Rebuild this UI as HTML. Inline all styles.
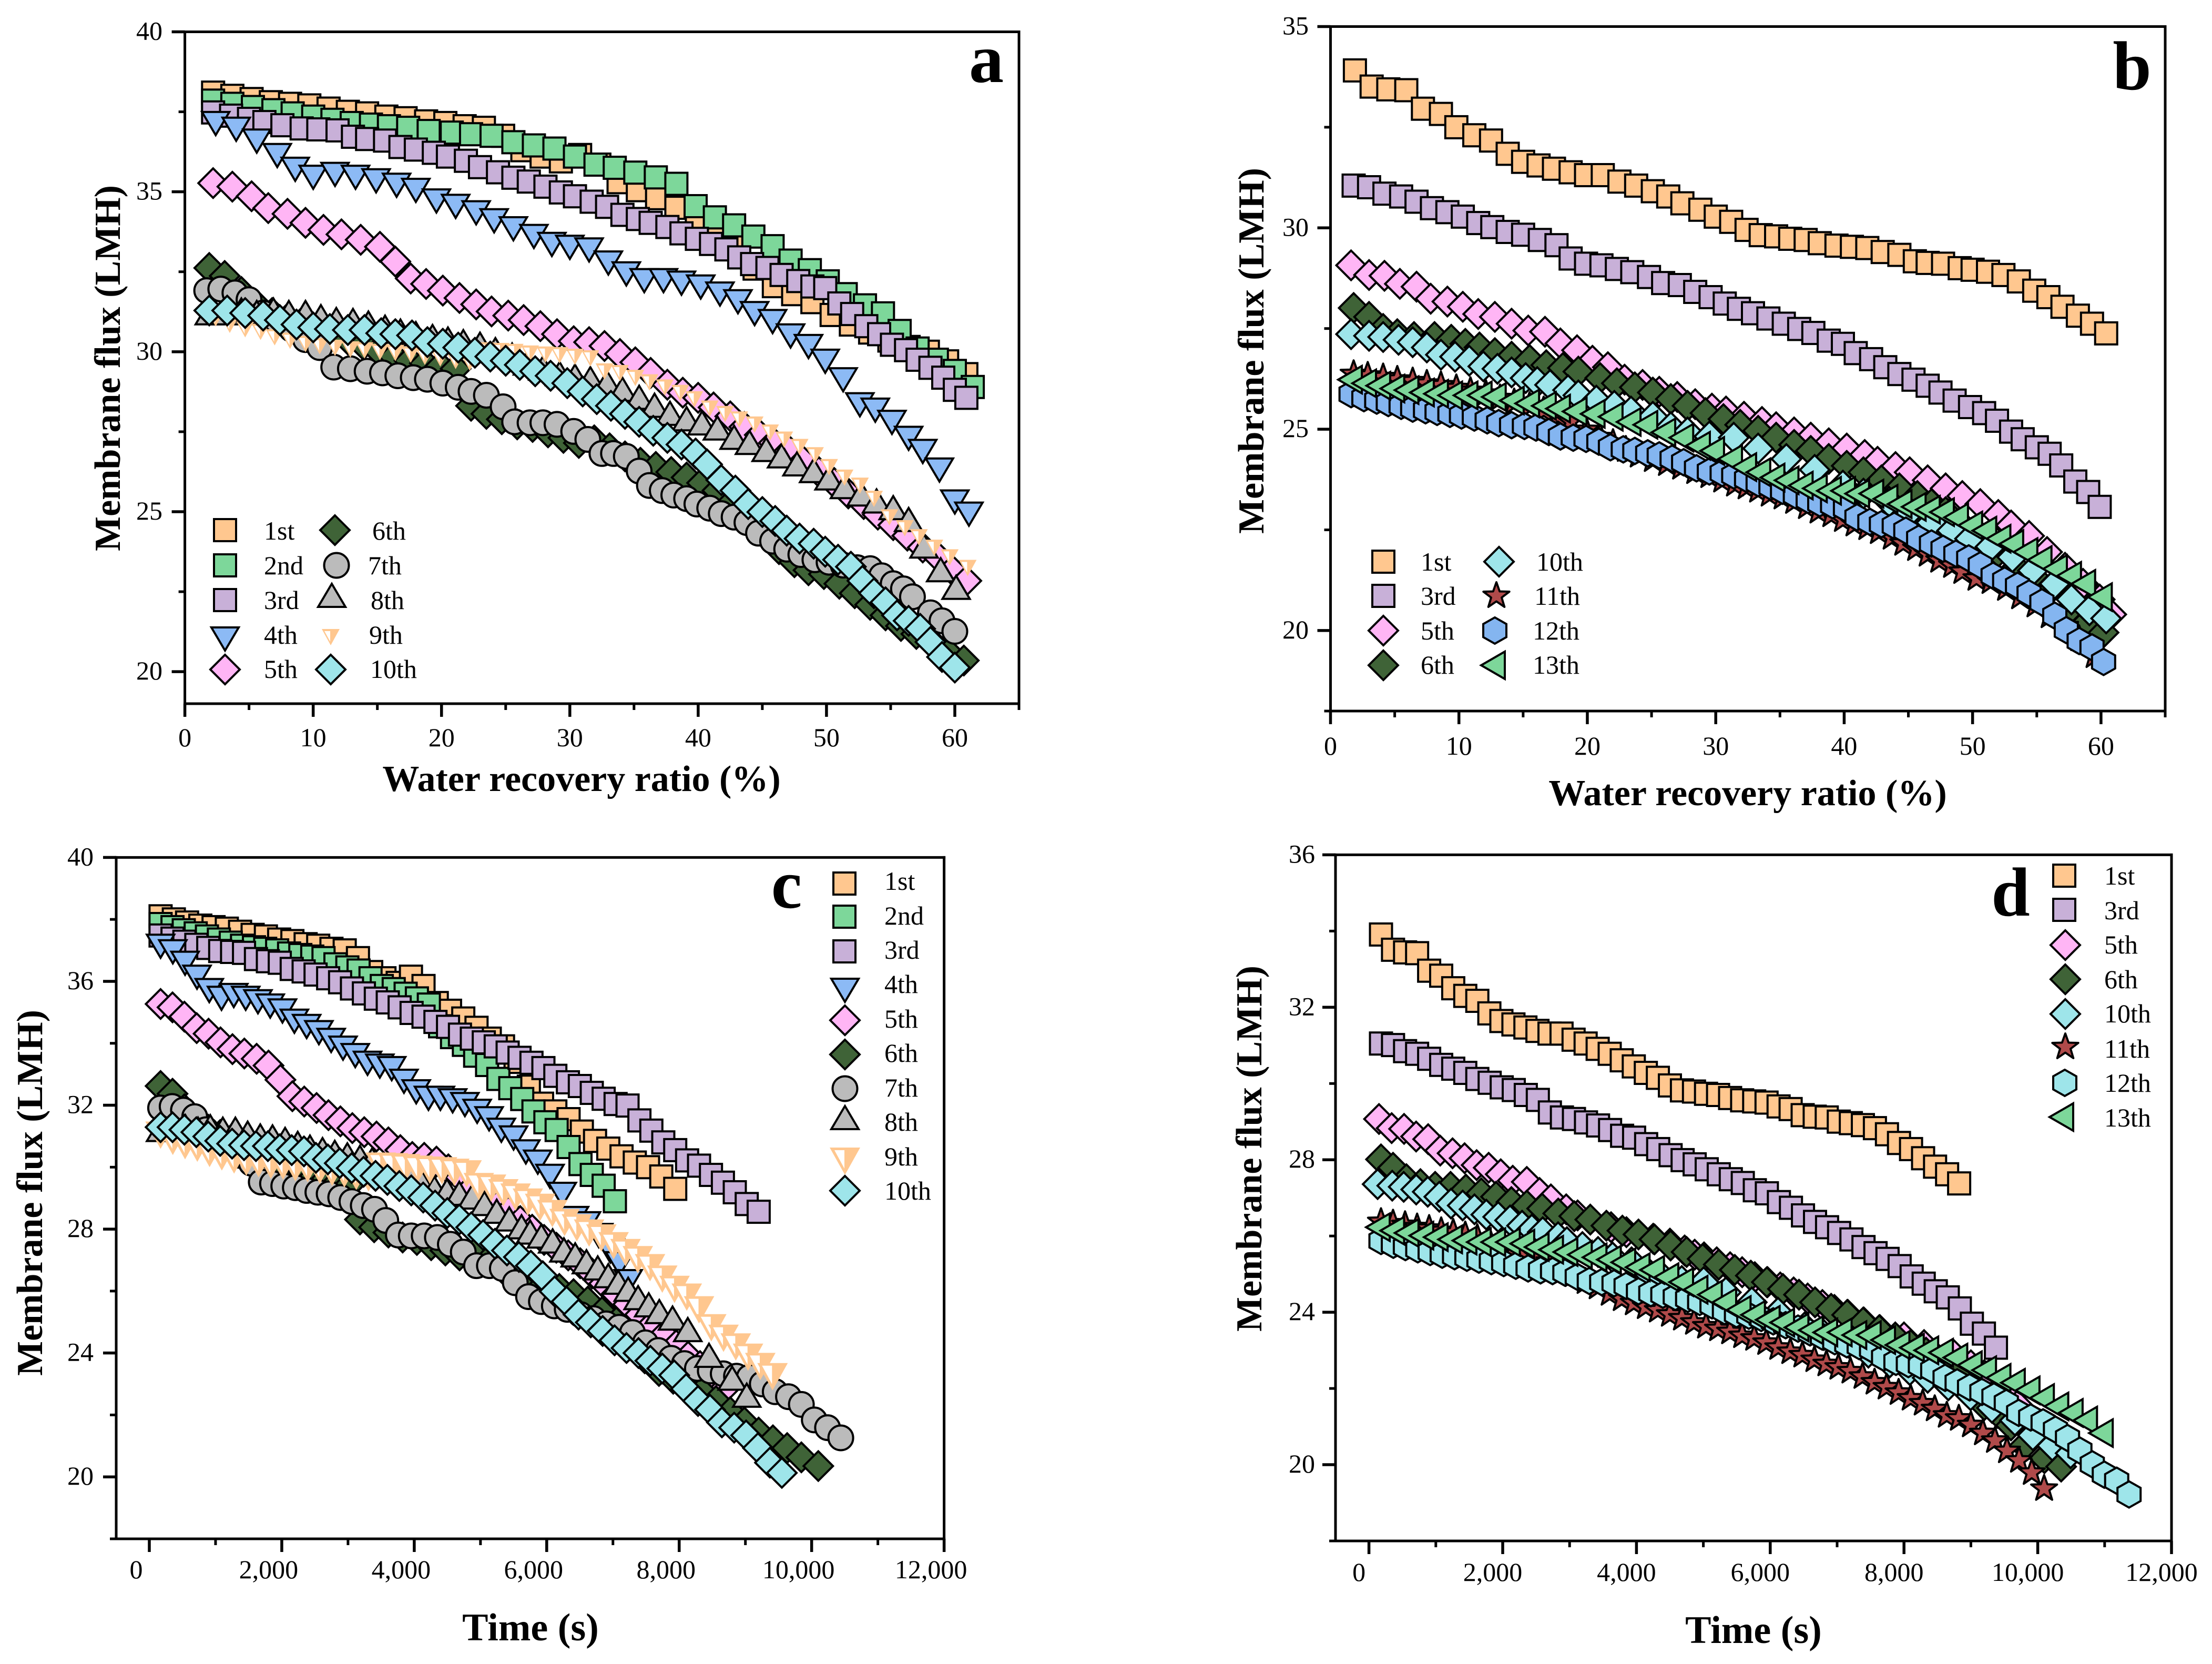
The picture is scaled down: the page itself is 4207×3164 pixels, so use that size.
<!DOCTYPE html>
<html lang="en">
<head>
<meta charset="utf-8">
<title>Membrane flux charts</title>
<style>
html,body{margin:0;padding:0;background:#fff;}
svg{display:block;}
text{font-family:"Liberation Serif",serif;fill:#000;}
.tick{font-size:50px;}
.leg{font-size:50px;}
.title{font-size:70px;font-weight:bold;}
.letter{font-size:132px;font-weight:bold;text-anchor:middle;}
</style>
</head>
<body>
<svg id="figure" xmlns="http://www.w3.org/2000/svg" width="4207" height="3164" viewBox="0 0 4207 3164">
<defs>
<rect id="m-square" x="-21" y="-21" width="42" height="42" stroke="#000" stroke-width="4"/>
<path id="m-down" d="M-26,-21H26L0,23Z" stroke="#000" stroke-width="4"/>
<path id="m-up" d="M0,-23L26,21H-26Z" stroke="#000" stroke-width="4"/>
<path id="m-left" d="M-22,0L23,-26V26Z" stroke="#000" stroke-width="4"/>
<path id="m-diamond" d="M0,-28L28,0L0,28L-28,0Z" stroke="#000" stroke-width="4"/>
<circle id="m-circle" r="23.5" stroke="#000" stroke-width="4"/>
<path id="m-star" d="M0,-26L6.2,-8.5L24.7,-8L10,3.2L15.3,21L0,10.5L-15.3,21L-10,3.2L-24.7,-8L-6.2,-8.5Z" stroke="#000" stroke-width="4" stroke-linejoin="round"/>
<path id="m-hex" d="M0,-25L22,-12.5V12.5L0,25L-22,12.5V-12.5Z" stroke="#000" stroke-width="4"/>
<g id="m-half"><path d="M-29,-25H29L0,27Z"/><path d="M-20,-20H-1V15Z" fill="#fff"/></g>
<g id="m-half-small"><path d="M-17,-15H17L0,16Z"/><path d="M-12,-11H-1V9Z" fill="#fff"/></g>
</defs>
<rect width="4207" height="3164" fill="#fff"/>

<g id="panel-a">
  <g id="plot-a"></g>
  <text class="letter" x="1876" y="156">a</text>
  <text class="title" text-anchor="middle" x="1106" y="1504">Water recovery ratio (%)</text>
  <text class="title" text-anchor="middle" transform="translate(228,700) rotate(-90)">Membrane flux (LMH)</text>
  <g>
    <use href="#m-square" x="428" y="1008" fill="#FFC78F"/><text class="leg" x="502" y="1026">1st</text>
    <use href="#m-square" x="428" y="1075" fill="#7DD79A"/><text class="leg" x="502" y="1092">2nd</text>
    <use href="#m-square" x="428" y="1141" fill="#C8B0D8"/><text class="leg" x="502" y="1158">3rd</text>
    <use href="#m-down" x="428" y="1214" fill="#8CBAF5"/><text class="leg" x="502" y="1224">4th</text>
    <use href="#m-diamond" x="428" y="1273" fill="#FFB5F5"/><text class="leg" x="502" y="1289">5th</text>
    <use href="#m-diamond" x="637" y="1008" fill="#3F6337"/><text class="leg" x="708" y="1026">6th</text>
    <use href="#m-circle" x="640" y="1075" fill="#BBBBBB"/><text class="leg" x="700" y="1092">7th</text>
    <use href="#m-up" x="631" y="1133" fill="#BBBBBB"/><text class="leg" x="705" y="1158">8th</text>
    <use href="#m-half-small" x="629" y="1211" fill="#FFC78F"/><text class="leg" x="702" y="1224">9th</text>
    <use href="#m-diamond" x="629" y="1273" fill="#9EE5EA"/><text class="leg" x="704" y="1289">10th</text>
  </g>
</g>

<g id="panel-b">
  <g id="plot-b"></g>
  <text class="letter" x="4055" y="170">b</text>
  <text class="title" text-anchor="middle" x="3324" y="1531">Water recovery ratio (%)</text>
  <text class="title" text-anchor="middle" transform="translate(2403,667) rotate(-90)">Membrane flux (LMH)</text>
  <g>
    <use href="#m-square" x="2631" y="1068" fill="#FFC78F"/><text class="leg" x="2702" y="1085">1st</text>
    <use href="#m-square" x="2631" y="1133" fill="#C8B0D8"/><text class="leg" x="2702" y="1150">3rd</text>
    <use href="#m-diamond" x="2631" y="1199" fill="#FFB5F5"/><text class="leg" x="2702" y="1216">5th</text>
    <use href="#m-diamond" x="2631" y="1265" fill="#3F6337"/><text class="leg" x="2702" y="1281">6th</text>
    <use href="#m-diamond" x="2851" y="1068" fill="#9EE5EA"/><text class="leg" x="2922" y="1085">10th</text>
    <use href="#m-star" x="2846" y="1133" fill="#B04A4A"/><text class="leg" x="2918" y="1150">11th</text>
    <use href="#m-hex" x="2843" y="1199" fill="#84B5F0"/><text class="leg" x="2915" y="1216">12th</text>
    <use href="#m-left" x="2839" y="1265" fill="#7DD79A"/><text class="leg" x="2915" y="1281">13th</text>
  </g>
</g>

<g id="panel-c">
  <g id="plot-c"></g>
  <text class="letter" x="1496" y="1726">c</text>
  <text class="title" text-anchor="middle" style="font-size:74px" x="1009" y="3119">Time (s)</text>
  <text class="title" text-anchor="middle" transform="translate(80,2268) rotate(-90)">Membrane flux (LMH)</text>
  <g>
    <use href="#m-square" x="1606" y="1680" fill="#FFC78F"/><text class="leg" x="1682" y="1692">1st</text>
    <use href="#m-square" x="1606" y="1743" fill="#7DD79A"/><text class="leg" x="1682" y="1758">2nd</text>
    <use href="#m-square" x="1606" y="1809" fill="#C8B0D8"/><text class="leg" x="1682" y="1823">3rd</text>
    <use href="#m-down" x="1607" y="1882" fill="#8CBAF5"/><text class="leg" x="1682" y="1888">4th</text>
    <use href="#m-diamond" x="1607" y="1940" fill="#FFB5F5"/><text class="leg" x="1682" y="1954">5th</text>
    <use href="#m-diamond" x="1607" y="2005" fill="#3F6337"/><text class="leg" x="1682" y="2019">6th</text>
    <use href="#m-circle" x="1607" y="2070" fill="#BBBBBB"/><text class="leg" x="1682" y="2085">7th</text>
    <use href="#m-up" x="1607" y="2126" fill="#BBBBBB"/><text class="leg" x="1682" y="2150">8th</text>
    <use href="#m-half" x="1607" y="2207" fill="#FFC78F"/><text class="leg" x="1682" y="2216">9th</text>
    <use href="#m-diamond" x="1607" y="2264" fill="#9EE5EA"/><text class="leg" x="1682" y="2281">10th</text>
  </g>
</g>

<g id="panel-d">
  <g id="plot-d"></g>
  <text class="letter" x="3824" y="1741">d</text>
  <text class="title" text-anchor="middle" style="font-size:74px" x="3335" y="3124">Time (s)</text>
  <text class="title" text-anchor="middle" transform="translate(2399,2184) rotate(-90)">Membrane flux (LMH)</text>
  <g>
    <use href="#m-square" x="3926" y="1665" fill="#FFC78F"/><text class="leg" x="4002" y="1682">1st</text>
    <use href="#m-square" x="3926" y="1730" fill="#C8B0D8"/><text class="leg" x="4002" y="1748">3rd</text>
    <use href="#m-diamond" x="3928" y="1797" fill="#FFB5F5"/><text class="leg" x="4002" y="1813">5th</text>
    <use href="#m-diamond" x="3928" y="1862" fill="#3F6337"/><text class="leg" x="4002" y="1879">6th</text>
    <use href="#m-diamond" x="3928" y="1928" fill="#9EE5EA"/><text class="leg" x="4002" y="1944">10th</text>
    <use href="#m-star" x="3928" y="1991" fill="#B04A4A"/><text class="leg" x="4002" y="2011">11th</text>
    <use href="#m-hex" x="3927" y="2059" fill="#9EE5EA"/><text class="leg" x="4002" y="2076">12th</text>
    <use href="#m-left" x="3920" y="2124" fill="#7DD79A"/><text class="leg" x="4002" y="2142">13th</text>
  </g>
</g>
</svg>

<script>
/* ---------- Run set 1 (panels a and c): 1st to 10th ---------- */
const rec1=[2.2,3.7,5.2,6.7,8.2,9.7,11.2,12.7,14.2,15.7,17.2,18.8,20.3,21.8,23.3,24.8,26.3,27.8,29.3,30.8,32.3,33.8,35.3,36.8,38.3,39.9,41.4,42.9,44.4,45.9,47.4,48.9,50.4,51.9,53.4,54.9,56.4,57.9,59.4,60.9];
const time1=[170,370,570,770,970,1170,1370,1560,1760,1960,2160,2360,2550,2750,2950,3150,3350,3550,3750,3950,4140,4340,4540,4740,4940,5140,5340,5530,5730,5930,6130,6330,6530,6730,6930,7130,7330,7530,7730,7940];
const flux1=[38.1,38.0,37.9,37.8,37.75,37.7,37.6,37.5,37.45,37.35,37.3,37.2,37.15,37.05,37.0,36.75,36.3,36.1,35.95,36.15,35.85,35.3,35.05,34.8,34.5,34.15,33.9,33.4,32.6,32.05,31.8,31.55,31.15,30.85,30.6,30.35,30.15,30.0,29.7,29.3];

const rec2=[2.2,3.7,5.3,6.9,8.4,10.0,11.5,13.0,14.5,15.9,17.4,19.0,20.8,22.3,23.9,25.6,27.2,28.8,30.4,32.0,33.5,35.1,36.7,38.3,39.8,41.3,42.8,44.3,45.8,47.2,48.7,50.1,51.5,53.0,54.4,55.7,57.1,58.6,60.0,61.4];
const time2=[170,350,520,700,870,1050,1230,1400,1580,1750,1930,2110,2280,2460,2630,2810,2990,3160,3340,3510,3690,3870,4040,4220,4390,4570,4750,4920,5100,5270,5450,5630,5800,5980,6150,6330,6510,6680,6860,7030];
const flux2=[37.85,37.75,37.65,37.55,37.45,37.35,37.25,37.15,37.1,37.05,37.0,36.9,36.85,36.8,36.75,36.55,36.45,36.35,36.1,35.85,35.75,35.6,35.45,35.25,34.55,34.2,33.95,33.6,33.3,32.85,32.55,32.2,31.8,31.45,31.2,30.65,30.1,29.75,29.4,28.9];

const rec3=[2.2,3.6,5.0,6.2,7.6,9.1,10.4,11.9,13.1,14.2,15.6,16.8,18.0,19.4,20.5,21.9,23.0,24.4,25.6,26.8,28.1,29.3,30.4,31.7,32.9,34.1,35.3,36.3,37.6,38.7,39.9,41.0,42.2,43.2,44.2,45.4,46.5,47.8,48.9,49.9,51.0,52.0,53.1,54.1,55.1,56.2,57.1,58.1,59.1,60.0,60.9];
const time3=[170,350,530,710,890,1070,1250,1430,1610,1790,1970,2150,2330,2510,2700,2880,3060,3240,3420,3600,3780,3960,4140,4320,4510,4690,4870,5050,5230,5410,5590,5770,5950,6130,6320,6500,6680,6860,7040,7220,7400,7580,7760,7940,8120,8300,8480,8660,8840,9020,9200];
const flux3=[37.48,37.38,37.28,37.18,37.08,36.98,36.95,36.92,36.72,36.65,36.6,36.4,36.32,36.22,36.1,35.97,35.77,35.61,35.44,35.32,35.16,34.98,34.86,34.69,34.53,34.28,34.15,34.03,33.9,33.7,33.53,33.37,33.2,32.95,32.74,32.62,32.4,32.21,32.04,31.99,31.51,31.18,30.8,30.55,30.22,30.05,29.75,29.5,29.19,28.81,28.56];

const rec4=[2.4,4.0,5.6,7.2,8.6,10.0,11.7,13.3,14.9,16.5,18.0,19.6,21.1,22.7,24.1,25.6,27.2,28.6,30.0,31.5,33.0,34.4,35.8,37.3,38.7,40.2,41.7,43.1,44.4,45.8,47.2,48.6,49.9,51.3,52.6,53.8,55.1,56.4,57.5,58.8,60.0,61.1];
const time4=[170,355,540,720,905,1090,1275,1455,1640,1825,2010,2190,2375,2560,2745,2925,3110,3295,3480,3660,3845,4030,4215,4395,4580,4765,4950,5130,5315,5500,5685,5865,6050,6235,6420,6600,6785,6960,7100,7230,7330,7440];
const flux4=[37.15,36.97,36.6,36.15,35.72,35.47,35.56,35.47,35.36,35.22,35.06,34.73,34.56,34.36,34.11,33.86,33.62,33.37,33.28,33.2,32.79,32.45,32.24,32.24,32.16,32.04,31.82,31.58,31.21,30.96,30.51,30.18,29.72,29.14,28.36,28.19,27.81,27.31,26.9,26.32,25.32,24.94];

const rec5=[2.2,3.7,5.2,6.5,8.0,9.4,10.8,12.2,13.7,15.2,16.4,17.6,18.8,20.1,21.4,22.7,23.9,25.2,26.4,27.7,29.0,30.3,31.5,32.7,33.9,35.1,36.3,37.6,38.8,40.0,41.2,42.5,43.6,44.8,45.9,47.1,48.2,49.4,50.6,51.7,52.9,54.0,55.2,56.3,57.5,58.7,59.8,60.9];
const time5=[170,350,530,715,895,1075,1255,1435,1620,1800,1980,2160,2340,2525,2705,2885,3065,3245,3430,3610,3790,3970,4150,4335,4515,4695,4875,5055,5240,5420,5600,5780,5960,6145,6325,6505,6685,6865,7050,7230,7410,7590,7770,7955,8135,8315,8495,8680];
const flux5=[35.27,35.16,34.86,34.49,34.31,34.03,33.81,33.67,33.5,33.28,32.82,32.29,32.12,31.91,31.68,31.48,31.26,31.13,30.99,30.8,30.55,30.33,30.3,30.18,29.93,29.67,29.34,28.97,28.72,28.56,28.26,27.98,27.65,27.4,27.15,26.9,26.57,26.24,25.9,25.57,25.24,24.91,24.58,24.25,23.88,23.58,23.17,22.84];

const rec6=[1.9,3.1,4.4,5.6,6.8,8.0,9.1,10.3,11.6,12.7,13.9,15.1,16.3,17.5,18.7,19.9,21.1,22.3,23.5,24.7,25.9,27.1,28.3,29.5,30.7,31.9,33.1,34.3,35.5,36.7,37.9,39.1,40.3,41.5,42.7,43.9,45.1,46.3,47.5,48.6,49.8,51.0,52.2,53.4,54.6,55.8,57.0,58.2,59.4,60.7];
const time6=[170,350,530,710,890,1070,1245,1425,1605,1785,1965,2145,2320,2500,2680,2860,3040,3180,3395,3610,3825,4040,4255,4470,4685,4900,5115,5330,5545,5760,5975,6190,6405,6620,6835,7050,7265,7480,7695,7910,8125,8340,8555,8770,8985,9200,9415,9630,9845,10100];
const flux6=[32.62,32.37,31.87,31.46,31.21,31.04,30.91,30.75,30.55,30.38,30.22,30.02,29.85,29.72,29.64,29.55,29.47,28.31,28.06,27.89,27.73,27.65,27.48,27.31,27.15,27.23,26.98,26.73,26.53,26.4,26.24,26.07,25.9,25.66,25.32,24.99,24.41,23.83,23.42,23.17,23.05,22.75,22.45,22.09,21.76,21.43,21.18,20.93,20.63,20.35];

const rec7=[1.7,2.8,3.9,5.0,6.1,7.2,8.3,9.4,10.5,11.6,12.9,14.2,15.4,16.6,17.8,18.9,20.1,21.3,22.3,23.5,24.8,25.7,26.9,27.9,29.0,30.3,31.4,32.5,33.4,34.4,35.4,36.2,37.2,38.1,39.1,39.9,40.9,41.8,42.8,43.8,44.7,45.8,46.9,48.0,49.1,50.2,51.3,52.4,53.4,54.3,55.2,56.0,56.7,58.1,59.0,60.0];
const time7=[170,345,515,685,855,1025,1200,1370,1540,1690,1860,2030,2205,2375,2545,2715,2890,3060,3230,3400,3570,3760,3955,4150,4350,4545,4740,4940,5135,5330,5525,5725,5920,6115,6310,6510,6705,6900,7095,7295,7490,7685,7880,8080,8275,8470,8665,8865,9060,9255,9450,9650,9845,10040,10240,10440];
const flux7=[31.91,31.96,31.84,31.63,31.21,30.96,30.71,30.38,30.13,29.52,29.47,29.39,29.34,29.25,29.19,29.14,29.02,28.89,28.76,28.64,28.28,27.81,27.78,27.78,27.73,27.51,27.26,26.82,26.82,26.73,26.27,25.82,25.66,25.52,25.41,25.24,25.11,24.94,24.83,24.66,24.33,24.08,23.83,23.66,23.5,23.42,23.33,23.25,23.22,23.0,22.75,22.59,22.34,21.84,21.59,21.26];

const rec8=[1.9,3.2,4.4,5.6,6.9,8.1,9.4,10.6,11.8,13.1,14.3,15.6,16.8,18.0,19.3,20.5,21.7,23.0,24.2,25.5,26.7,27.9,29.2,30.4,31.6,32.9,34.1,35.4,36.6,37.8,39.1,40.3,41.5,42.8,44.0,45.3,46.5,47.7,49.0,50.2,51.4,52.7,53.9,55.2,56.4,57.6,58.9,60.1];
const time8=[170,360,545,735,920,1110,1300,1485,1675,1860,2050,2240,2425,2615,2800,2990,3180,3365,3555,3740,3930,4120,4305,4495,4680,4870,5060,5245,5435,5620,5750,5920,6090,6260,6430,6600,6770,6930,7080,7230,7380,7540,7700,7900,8130,8450,8800,9020];
const flux8=[31.2,31.2,31.29,31.21,31.29,31.21,31.21,31.08,30.99,30.96,30.88,30.75,30.63,30.55,30.46,30.38,30.3,30.22,30.05,29.88,29.63,29.47,29.3,29.22,29.14,29.02,28.81,28.56,28.31,28.06,27.89,27.76,27.6,27.31,27.15,26.93,26.73,26.48,26.27,26.04,25.77,25.54,25.32,25.11,24.74,23.91,23.17,22.62];

const rec9=[2.4,3.5,4.7,5.9,7.0,8.2,9.4,10.5,11.7,12.9,14.0,15.2,16.4,17.6,18.7,19.9,21.1,22.2,23.4,24.6,25.7,26.9,28.1,29.2,30.4,31.6,32.7,33.9,35.1,36.2,37.4,38.6,39.7,40.9,42.1,43.2,44.4,45.6,46.7,47.9,49.1,50.2,51.4,52.6,53.7,54.9,56.1,57.2,58.4,59.6,61.0];
const time9=[170,355,540,725,910,1095,1280,1465,1650,1835,2020,2205,2390,2575,2760,2945,3125,3310,3495,3680,3865,4050,4235,4420,4605,4790,4975,5160,5345,5530,5715,5900,6085,6270,6455,6640,6825,7010,7190,7375,7560,7745,7930,8115,8300,8485,8670,8855,9040,9225,9410];
const flux9=[31.05,30.85,30.71,30.63,30.46,30.35,30.25,30.18,30.13,30.08,30.05,30.0,29.97,29.92,29.85,29.8,29.72,29.67,30.05,30.03,30.0,29.95,29.92,29.9,29.85,29.8,29.39,29.34,29.19,29.05,28.89,28.72,28.52,28.23,28.06,27.89,27.73,27.48,27.26,27.03,26.77,26.4,26.07,25.82,25.41,24.83,24.49,24.21,23.88,23.58,23.25];

const rec10=[1.9,3.3,4.7,6.1,7.4,8.7,10.0,11.3,12.7,14.0,15.3,16.4,17.7,18.9,20.1,21.3,22.6,23.8,25.0,26.1,27.3,28.5,29.8,31.0,32.1,33.2,34.3,35.4,36.5,37.6,38.7,39.8,40.7,41.8,42.9,43.9,45.0,46.0,46.9,47.9,49.0,49.9,50.9,51.9,52.8,53.7,54.6,55.5,56.4,57.3,58.1,59.0,60.0];
const time10=[170,350,530,710,890,1070,1250,1430,1610,1790,1970,2150,2335,2515,2695,2875,3055,3235,3415,3595,3775,3955,4135,4315,4500,4680,4860,5040,5220,5400,5580,5760,5940,6120,6300,6480,6665,6845,7025,7205,7385,7565,7745,7925,8105,8285,8465,8645,8830,9010,9190,9370,9550];
const flux10=[31.29,31.29,31.21,31.13,30.99,30.85,30.76,30.71,30.68,30.68,30.58,30.55,30.51,30.3,30.25,30.13,29.97,29.85,29.72,29.59,29.39,29.25,29.02,28.76,28.52,28.31,28.06,27.81,27.53,27.31,27.1,26.82,26.48,25.99,25.66,25.24,24.99,24.71,24.41,24.16,24.0,23.75,23.5,23.28,22.84,22.45,22.17,21.76,21.59,21.34,20.93,20.46,20.13];

/* ---------- Run set 2 (panels b and d): 1st, 3rd, 5th, 6th, 10th to 13th ---------- */
const recB1=[1.9,3.2,4.5,5.9,7.2,8.6,9.8,11.2,12.5,13.8,15.0,16.2,17.4,18.7,19.9,21.2,22.5,23.8,25.1,26.3,27.4,28.8,30.0,31.2,32.4,33.5,34.7,35.8,37.0,38.1,39.4,40.6,41.8,43.0,44.3,45.5,46.5,47.7,49.0,50.0,51.2,52.4,53.6,54.8,55.9,57.0,58.2,59.3,60.4];
const timeB1=[180,360,540,720,900,1080,1260,1440,1620,1800,1980,2160,2340,2520,2700,2880,3060,3240,3420,3600,3780,3960,4140,4320,4500,4680,4860,5040,5220,5400,5580,5760,5945,6125,6305,6485,6665,6845,7025,7205,7385,7565,7745,7925,8105,8285,8465,8645,8825];
const fluxB1=[33.91,33.51,33.44,33.42,32.96,32.83,32.5,32.3,32.17,31.84,31.64,31.55,31.47,31.38,31.31,31.31,31.15,31.05,30.91,30.78,30.61,30.45,30.28,30.15,29.95,29.82,29.79,29.73,29.7,29.62,29.56,29.53,29.5,29.4,29.33,29.17,29.13,29.11,29.0,28.96,28.91,28.83,28.67,28.44,28.28,28.04,27.82,27.62,27.38];

const recB3=[1.8,3.0,4.2,5.5,6.7,7.9,9.1,10.3,11.5,12.6,13.8,15.0,16.3,17.6,18.7,19.9,21.1,22.3,23.5,24.8,25.9,27.2,28.4,29.6,30.7,31.8,32.9,34.1,35.3,36.5,37.6,38.8,39.9,40.9,42.1,43.2,44.3,45.4,46.5,47.5,48.6,49.8,50.9,51.9,53.0,53.9,55.0,56.0,56.9,58.0,59.0,59.9];
const timeB3=[180,360,540,720,900,1080,1260,1440,1620,1805,1985,2165,2345,2525,2705,2885,3065,3245,3425,3605,3785,3965,4145,4325,4510,4690,4870,5050,5230,5410,5590,5770,5950,6130,6310,6490,6670,6850,7030,7215,7395,7575,7755,7935,8115,8295,8475,8655,8835,9015,9195,9375];
const fluxB3=[31.05,31.01,30.85,30.78,30.65,30.49,30.39,30.28,30.12,30.02,29.9,29.83,29.7,29.57,29.24,29.11,29.07,28.98,28.9,28.78,28.63,28.58,28.41,28.28,28.12,27.99,27.88,27.75,27.62,27.49,27.39,27.2,27.12,26.89,26.74,26.54,26.37,26.23,26.08,25.91,25.71,25.55,25.4,25.21,24.94,24.75,24.55,24.39,24.1,23.7,23.44,23.07];

const recB5=[1.6,3.0,4.2,5.4,6.7,7.8,9.1,10.3,11.5,12.8,14.1,15.4,16.7,17.9,19.2,20.4,21.6,22.9,24.3,25.6,27.0,28.4,29.7,30.8,32.2,33.6,34.7,36.1,37.4,38.8,40.2,41.6,42.6,44.0,45.1,46.5,47.9,49.2,50.6,52.0,53.0,54.4,55.8,57.2,58.6,59.9,60.8];
const timeB5=[150,340,525,705,885,1065,1250,1430,1610,1790,1970,2150,2360,2550,2720,2950,3120,3620,3850,4250,4500,4720,4870,5010,5200,5400,5580,5770,5960,6150,6350,6560,6780,6960,7160,7400,7640,8000,8300,8750,9000,9200,9500,9700,9900,10100,10350];
const fluxB5=[29.07,28.83,28.81,28.61,28.54,28.24,28.17,28.04,27.86,27.79,27.62,27.45,27.42,27.13,26.96,26.7,26.54,26.23,26.1,25.93,25.8,25.62,25.51,25.44,25.31,25.18,25.05,24.92,24.79,24.65,24.52,24.36,24.19,24.06,23.93,23.73,23.53,23.34,23.14,22.87,22.61,22.35,21.95,21.56,21.16,20.77,20.4];

const recB6=[1.8,3.0,4.1,5.2,6.5,8.1,9.4,10.5,11.6,12.8,14.1,15.5,16.8,18.1,19.3,21.0,22.3,23.7,25.1,26.5,27.8,29.2,30.6,31.9,33.3,34.7,36.1,37.4,38.8,40.2,41.5,42.9,44.3,45.7,46.8,47.9,49.2,50.6,52.0,53.4,54.7,56.1,57.5,58.8,60.2];
const timeB6=[180,360,560,770,990,1220,1450,1680,1900,2130,2360,2590,2830,3070,3310,3550,3790,4030,4270,4510,4750,4990,5230,5470,5710,5950,6190,6430,6670,6910,7150,7390,7630,7870,8100,8330,8560,8790,9000,9200,9400,9600,9800,10100,10350];
const fluxB6=[28.01,27.79,27.49,27.36,27.29,27.29,27.22,27.12,27.03,26.89,26.8,26.72,26.59,26.52,26.43,26.27,26.14,26.04,25.91,25.75,25.58,25.4,25.25,25.11,24.96,24.79,24.61,24.46,24.26,24.09,23.93,23.73,23.53,23.34,23.14,22.94,22.61,22.35,21.95,21.56,21.36,21.03,20.5,20.17,19.95];

const recB10=[1.6,3.0,4.1,5.3,6.4,7.5,8.6,9.7,10.8,11.9,13.0,14.1,15.2,16.1,17.1,18.5,19.3,20.7,22.1,23.4,25.1,26.5,27.8,29.5,31.4,33.3,35.5,37.7,39.9,41.5,43.5,45.1,46.8,48.4,49.8,51.4,53.1,54.7,56.4,57.7,59.1,60.4];
const timeB10=[130,348,520,707,879,1052,1227,1402,1578,1755,1932,2110,2289,2435,2598,2828,2960,3192,3425,3642,3927,4164,4386,4677,5005,5337,5724,6116,6513,6803,7171,7468,7786,8087,8354,8663,8996,9315,9659,9927,10218,10491];
const fluxB10=[27.36,27.32,27.29,27.22,27.16,27.03,26.85,26.8,26.7,26.56,26.5,26.41,26.27,26.17,26.1,25.97,25.84,25.71,25.58,25.44,25.31,25.05,24.92,24.82,24.79,24.52,24.26,23.99,23.6,23.4,23.2,22.94,22.68,22.48,22.28,22.08,21.82,21.49,21.16,20.77,20.5,20.3];

const recB11=[1.8,2.9,4.1,5.2,6.4,7.5,8.6,9.8,10.9,12.1,13.2,14.3,15.5,16.6,17.7,18.7,19.9,21,22,23,24,25.1,26.2,27.3,28.4,29.5,30.5,31.5,32.4,33.3,34.2,35.2,36.1,37.1,38,39,39.9,40.8,41.8,42.7,43.7,44.6,45.6,46.5,47.4,48.4,49.2,50.3,51.4,52.6,53.7,54.9,56,57.2,58.3,59.5];
const timeB11=[180,360,540,720,900,1080,1260,1440,1620,1800,1980,2160,2340,2520,2700,2880,3060,3240,3420,3600,3780,3960,4140,4320,4500,4680,4860,5040,5220,5400,5580,5760,5940,6120,6300,6480,6660,6840,7020,7200,7380,7560,7740,7920,8100,8280,8460,8640,8820,9000,9180,9360,9540,9720,9910,10095];
const fluxB11=[26.37,26.33,26.29,26.23,26.19,26.13,26.09,26.02,25.95,25.88,25.77,25.67,25.58,25.47,25.33,25.19,24.98,24.8,24.66,24.49,24.35,24.24,24.14,24.05,23.94,23.84,23.73,23.63,23.56,23.48,23.38,23.31,23.2,23.07,22.96,22.87,22.75,22.64,22.55,22.45,22.31,22.16,22.03,21.89,21.74,21.61,21.46,21.29,21.21,21.04,20.83,20.63,20.36,20.11,19.79,19.37];

const recB12=[1.6,2.6,3.6,4.5,5.5,6.4,7.4,8.3,9.3,10.2,11.2,12.2,13.1,14.1,15.1,16.0,17.0,17.9,18.9,19.9,20.9,21.8,22.8,23.7,24.7,25.6,26.6,27.5,28.5,29.5,30.5,31.4,32.4,33.3,34.3,35.2,36.2,37.2,38.1,39.1,40.1,41.0,42.0,42.9,43.9,44.8,45.8,46.8,47.7,48.7,49.7,50.6,51.6,52.5,53.5,54.4,55.4,56.4,57.3,58.3,59.3,60.2];
const timeB12=[180,365,545,730,915,1095,1280,1465,1645,1830,2015,2195,2380,2565,2745,2930,3115,3295,3480,3665,3845,4030,4215,4395,4580,4765,4945,5130,5315,5495,5680,5865,6045,6230,6415,6595,6780,6965,7145,7330,7515,7695,7880,8065,8245,8430,8615,8795,8980,9165,9345,9530,9715,9895,10080,10265,10445,10630,10815,10995,11180,11365];
const fluxB12=[25.87,25.77,25.71,25.65,25.58,25.51,25.47,25.43,25.38,25.34,25.29,25.22,25.15,25.1,25.08,25.04,24.93,24.82,24.79,24.76,24.69,24.55,24.5,24.46,24.4,24.35,24.27,24.18,24.03,23.95,23.91,23.85,23.76,23.66,23.57,23.47,23.36,23.24,23.16,23.11,23.03,22.81,22.7,22.64,22.6,22.48,22.28,22.16,22.03,21.91,21.79,21.62,21.36,21.24,21.11,20.92,20.7,20.37,20.01,19.74,19.58,19.22];

const recB13=[1.5,2.6,3.7,4.8,5.9,7.1,8.2,9.3,10.5,11.6,12.7,14.1,15.3,16.6,17.7,19.0,20.4,21.8,23.2,24.5,25.9,27.3,28.6,29.7,31.1,32.2,33.3,34.4,35.5,36.6,37.7,38.8,39.9,41.0,42.1,43.2,44.3,45.4,46.5,47.6,48.7,49.8,50.9,52.0,53.0,54.1,55.2,56.4,57.5,58.6,59.9];
const timeB13=[130,345,560,780,995,1210,1425,1640,1855,2075,2290,2505,2720,2935,3150,3370,3585,3800,4015,4230,4445,4665,4880,5095,5310,5525,5740,5960,6175,6390,6605,6820,7035,7255,7470,7685,7900,8115,8330,8550,8765,8980,9195,9410,9625,9845,10060,10275,10490,10705,10940];
const fluxB13=[26.23,26.14,26.08,26.01,25.97,25.91,25.88,25.84,25.84,25.84,25.8,25.71,25.64,25.58,25.51,25.44,25.38,25.31,25.18,25.11,24.92,24.79,24.59,24.46,24.26,24.06,23.93,23.8,23.73,23.6,23.53,23.47,23.47,23.4,23.4,23.27,23.14,23.07,23.0,22.94,22.81,22.61,22.48,22.28,22.15,21.95,21.75,21.53,21.36,21.16,20.83];

/* ---------- Tick labels ---------- */
const recoveryTicks=[0,10,20,30,40,50,60];
const recoveryMinor=[5,15,25,35,45,55,65];
const timeTicks=[0,2000,4000,6000,8000,10000,12000];
const timeMinor=[1000,3000,5000,7000,9000,11000];
const yTicksA=[20,25,30,35,40];
const yMinorA=[22.5,27.5,32.5,37.5];
const yTicksB=[20,25,30,35];
const yMinorB=[18,22.5,27.5,32.5];
const yTicksC=[20,24,28,32,36,40];
const yMinorC=[18,22,26,30,34,38];
const yTicksD=[20,24,28,32,36];
const yMinorD=[18,22,26,30,34];

const SVGNS='http://www.w3.org/2000/svg';

function scale(domain0,domain1,range0,range1){
  return function(v){return range0+(v-domain0)/(domain1-domain0)*(range1-range0);};
}
function line(parent,x1,y1,x2,y2,w){
  const el=document.createElementNS(SVGNS,'line');
  
  
  el.setAttribute('x1',x1);el.setAttribute('y1',y1);
  el.setAttribute('x2',x2);el.setAttribute('y2',y2);
  el.setAttribute('stroke','#000');el.setAttribute('stroke-width',w);
  parent.appendChild(el);
}
function tickLabel(parent,txt,x,y,anchor){
  const el=document.createElementNS(SVGNS,'text');
  
  
  el.setAttribute('class','tick');
  el.setAttribute('x',x);el.setAttribute('y',y);
  el.setAttribute('text-anchor',anchor);
  el.textContent=txt;
  parent.appendChild(el);
}
function marker(parent,kind,x,y,fill){
  const el=document.createElementNS(SVGNS,'use');
  
  
  el.setAttribute('href','#m-'+kind);
  el.setAttribute('x',x.toFixed(1));
  el.setAttribute('y',y.toFixed(1));
  el.setAttribute('fill',fill);
  parent.appendChild(el);
}
function fmt(v){return String(v).replace(/\B(?=(\d{3})+(?!\d))/g,',');}

function drawPanel(id,p,series){
  const root=document.getElementById(id);
  const sx=scale(p.xMin,p.xMax,p.L,p.R);
  const sy=scale(p.yMin,p.yMax,p.B,p.T);
  series.forEach(function(s){
    const g=document.createElementNS(SVGNS,'g');
    
    
    for(let i=0;i<s.x.length&&i<s.y.length;i++){
      marker(g,s.kind,sx(s.x[i]),sy(s.y[i]),s.fill);
    }
    root.appendChild(g);
  });
  const axes=document.createElementNS(SVGNS,'g');
  
  
  root.appendChild(axes);
  line(axes,p.L,p.T-2.5,p.L,p.B+2.5,5);
  line(axes,p.R,p.T-2.5,p.R,p.B+2.5,5);
  line(axes,p.L-2.5,p.T,p.R+2.5,p.T,5);
  line(axes,p.L-2.5,p.B,p.R+2.5,p.B,5);
  p.xTicks.forEach(function(v){
    line(axes,sx(v),p.B,sx(v),p.B+25,5.5);
    tickLabel(axes,p.xFmt(v),sx(v)+p.xShift,p.xLabelY,'middle');
  });
  p.xMinor.forEach(function(v){line(axes,sx(v),p.B,sx(v),p.B+12,5);});
  p.yTicks.forEach(function(v){
    line(axes,p.L-25,sy(v),p.L,sy(v),5.5);
    tickLabel(axes,String(v),p.yLabelX,sy(v)+15,'end');
  });
  p.yMinor.forEach(function(v){line(axes,p.L-12,sy(v),p.L,sy(v),5);});
}

const ORANGE='#FFC78F',GREEN='#7DD79A',PURPLE='#C8B0D8',BLUE='#8CBAF5',PINK='#FFB5F5',DARK='#3F6337',GRAY='#BBBBBB',CYAN='#9EE5EA',RED='#B04A4A',BLUE2='#84B5F0';

drawPanel('plot-a',{L:351.6,R:1938,T:60.5,B:1338,xMin:0,xMax:65,yMin:19,yMax:40,xTicks:recoveryTicks,xMinor:recoveryMinor,yTicks:yTicksA,yMinor:yMinorA,xFmt:String,xShift:0,xLabelY:1419,yLabelX:309},[
 {name:'1st',kind:'square',fill:ORANGE,x:rec1,y:flux1},
 {name:'2nd',kind:'square',fill:GREEN,x:rec2,y:flux2},
 {name:'3rd',kind:'square',fill:PURPLE,x:rec3,y:flux3},
 {name:'4th',kind:'down',fill:BLUE,x:rec4,y:flux4},
 {name:'5th',kind:'diamond',fill:PINK,x:rec5,y:flux5},
 {name:'6th',kind:'diamond',fill:DARK,x:rec6,y:flux6},
 {name:'7th',kind:'circle',fill:GRAY,x:rec7,y:flux7},
 {name:'8th',kind:'up',fill:GRAY,x:rec8,y:flux8},
 {name:'9th',kind:'half-small',fill:ORANGE,x:rec9,y:flux9},
 {name:'10th',kind:'diamond',fill:CYAN,x:rec10,y:flux10}
]);

drawPanel('plot-b',{L:2530.5,R:4118,T:50.5,B:1352,xMin:0,xMax:65,yMin:18,yMax:35,xTicks:recoveryTicks,xMinor:recoveryMinor,yTicks:yTicksB,yMinor:yMinorB,xFmt:String,xShift:0,xLabelY:1435,yLabelX:2489},[
 {name:'1st',kind:'square',fill:ORANGE,x:recB1,y:fluxB1},
 {name:'3rd',kind:'square',fill:PURPLE,x:recB3,y:fluxB3},
 {name:'5th',kind:'diamond',fill:PINK,x:recB5,y:fluxB5},
 {name:'6th',kind:'diamond',fill:DARK,x:recB6,y:fluxB6},
 {name:'10th',kind:'diamond',fill:CYAN,x:recB10,y:fluxB10},
 {name:'11th',kind:'star',fill:RED,x:recB11,y:fluxB11},
 {name:'12th',kind:'hex',fill:BLUE2,x:recB12,y:fluxB12},
 {name:'13th',kind:'left',fill:GREEN,x:recB13,y:fluxB13}
]);

drawPanel('plot-c',{L:221,R:1795.6,T:1630.4,B:2926,xMin:-500,xMax:12000,yMin:18,yMax:40,xTicks:timeTicks,xMinor:timeMinor,yTicks:yTicksC,yMinor:yMinorC,xFmt:fmt,xShift:-25,xLabelY:3001,yLabelX:178},[
 {name:'1st',kind:'square',fill:ORANGE,x:time1,y:flux1},
 {name:'2nd',kind:'square',fill:GREEN,x:time2,y:flux2},
 {name:'3rd',kind:'square',fill:PURPLE,x:time3,y:flux3},
 {name:'4th',kind:'down',fill:BLUE,x:time4,y:flux4},
 {name:'5th',kind:'diamond',fill:PINK,x:time5,y:flux5},
 {name:'6th',kind:'diamond',fill:DARK,x:time6,y:flux6},
 {name:'7th',kind:'circle',fill:GRAY,x:time7,y:flux7},
 {name:'8th',kind:'up',fill:GRAY,x:time8,y:flux8},
 {name:'9th',kind:'half',fill:ORANGE,x:time9,y:flux9},
 {name:'10th',kind:'diamond',fill:CYAN,x:time10,y:flux10}
]);

drawPanel('plot-d',{L:2540,R:4130,T:1625.4,B:2930,xMin:-500,xMax:12000,yMin:18,yMax:36,xTicks:timeTicks,xMinor:timeMinor,yTicks:yTicksD,yMinor:yMinorD,xFmt:fmt,xShift:-19,xLabelY:3006,yLabelX:2501},[
 {name:'1st',kind:'square',fill:ORANGE,x:timeB1,y:fluxB1},
 {name:'3rd',kind:'square',fill:PURPLE,x:timeB3,y:fluxB3},
 {name:'5th',kind:'diamond',fill:PINK,x:timeB5,y:fluxB5},
 {name:'6th',kind:'diamond',fill:DARK,x:timeB6,y:fluxB6},
 {name:'10th',kind:'diamond',fill:CYAN,x:timeB10,y:fluxB10},
 {name:'11th',kind:'star',fill:RED,x:timeB11,y:fluxB11},
 {name:'12th',kind:'hex',fill:CYAN,x:timeB12,y:fluxB12},
 {name:'13th',kind:'left',fill:GREEN,x:timeB13,y:fluxB13}
]);
</script>
</body>
</html>
